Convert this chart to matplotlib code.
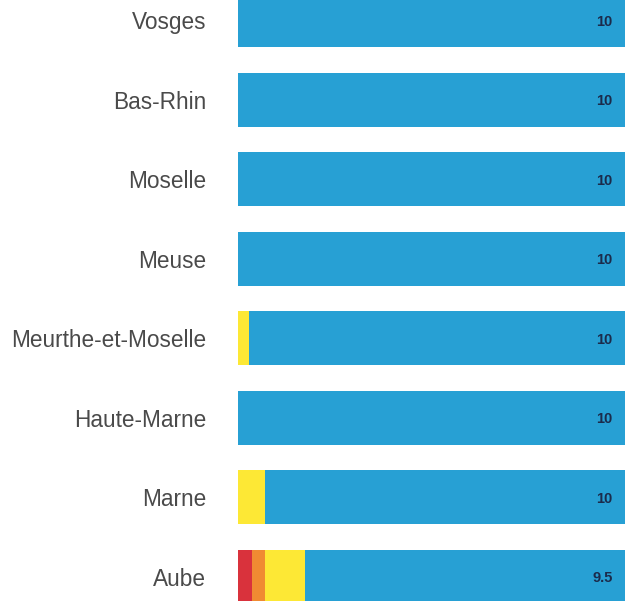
import matplotlib.pyplot as plt
import numpy as np

departements = ["Vosges", "Bas-Rhin", "Moselle", "Meuse", "Meurthe-et-Moselle",
                "Haute-Marne", "Marne", "Aube"]
# share of each colour band, in percent
rouge = np.array([0, 0, 0, 0, 0, 0, 0, 3.6])
orange = np.array([0, 0, 0, 0, 0, 0, 0, 3.4])
jaune = np.array([0, 0, 0, 0, 2.8, 0, 7.0, 10.3])
bleu = 100 - rouge - orange - jaune
notes = ["10", "10", "10", "10", "10", "10", "10", "9.5"]

plt.rcParams['font.family'] = ['Liberation Sans', 'DejaVu Sans']
fig = plt.figure(figsize=(6.25, 6.01), dpi=100)
ax = fig.add_axes([238 / 625, 0, 1 - 238 / 625, 1])

y = np.arange(len(departements))
h = 0.68
left = np.zeros(len(departements))
for vals, col in [(rouge, '#d9323c'), (orange, '#f08b32'),
                  (jaune, '#fde835'), (bleu, '#27a0d4')]:
    ax.barh(y, vals, left=left, height=h, color=col, linewidth=0)
    left = left + vals

for i, n in enumerate(notes):
    ax.text(96.8, i + 0.02, n, ha='right', va='center', fontsize=10.5,
            fontweight='bold', color='#1b2b4b')

ax.set_xlim(0, 100)
ax.set_ylim(7.305, -0.252)
ax.set_yticks(y)
ax.set_yticklabels(departements, fontsize=16.3, color='#4a4a4a')
ax.tick_params(axis='y', length=0, pad=23)
ax.set_xticks([])
for s in ax.spines.values():
    s.set_visible(False)

fig.savefig("out.png", dpi=100)
